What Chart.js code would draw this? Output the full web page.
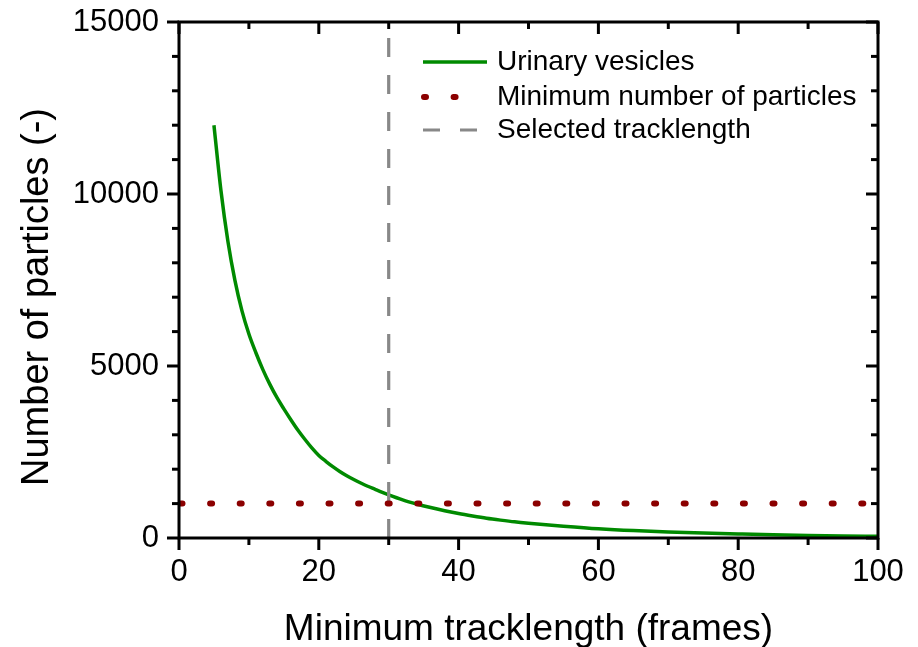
<!DOCTYPE html>
<html>
<head>
<meta charset="utf-8">
<script src="https://cdn.jsdelivr.net/npm/chart.js@4/dist/chart.umd.min.js"></script>
<style>
html,body{margin:0;padding:0;background:#fff;}
#wrap{width:918px;height:647px;position:relative;}
</style>
</head>
<body>
<div id="wrap"><canvas id="c" width="918" height="647"></canvas></div>
<script>
// ---- data ----
const trackLength = [5,6,7,8,9,10,11,12,13,14,15,16,17,18,19,20,21,22,23,24,25,26,27,28,29,30,32,34,36,38,40,42,44,46,48,50,55,60,65,70,75,80,85,90,95,100];
const particles   = [12000,10100,8620,7490,6610,5930,5385,4895,4465,4085,3755,3440,3140,2870,2620,2400,2230,2075,1935,1810,1700,1600,1505,1420,1335,1255,1110,990,885,790,710,640,575,520,470,430,345,270,215,175,145,117,92,74,60,49];
const minCountX = [0,100];
const minCountY = [1000,1000];
const selectedX = [30,30];
const selectedY = [0,15000];
const xTicks = [0,20,40,60,80,100];
const yTicks = [0,5000,10000,15000];
const seriesNames = ['Urinary vesicles','Minimum number of particles','Selected tracklength'];
const xTitle = 'Minimum tracklength (frames)';
const yTitle = 'Number of particles (-)';

const FONT = "'Liberation Sans', Arial, sans-serif";
const GREEN = '#008a00', RED = '#8b0000', GRAY = '#888888';

const decor = {
  id: 'decor',
  afterDraw(chart) {
    const {ctx, chartArea: a, scales: {x, y}} = chart;
    ctx.save();
    ctx.strokeStyle = '#000';
    ctx.lineCap = 'butt';
    ctx.setLineDash([]);
    const seg = (x1, y1, x2, y2) => { ctx.beginPath(); ctx.moveTo(x1, y1); ctx.lineTo(x2, y2); ctx.stroke(); };
    ctx.lineWidth = 3;
    // ticks
    for (let v = 0; v <= 100; v += 10) {
      const px = x.getPixelForValue(v);
      const L = v % 20 === 0 ? 12 : 7;
      seg(px, a.bottom, px, a.bottom + L);
      seg(px, a.top, px, a.top + L);
    }
    for (let v = 0; v <= 15000; v += 1000) {
      const py = y.getPixelForValue(v);
      const L = v % 5000 === 0 ? 12 : 7;
      seg(a.left - L, py, a.left, py);
      seg(a.right - L, py, a.right, py);
    }
    // frame
    ctx.strokeRect(a.left, a.top, a.right - a.left, a.bottom - a.top);

    // axis titles
    ctx.fillStyle = '#000';
    ctx.font = '37px ' + FONT;
    ctx.textAlign = 'center';
    ctx.textBaseline = 'alphabetic';
    ctx.fillText(xTitle, (a.left + a.right) / 2, 640);
    ctx.save();
    ctx.font = '38px ' + FONT;
    ctx.translate(48, 297);
    ctx.rotate(-Math.PI / 2);
    ctx.fillText(yTitle, 0, 0);
    ctx.restore();

    // legend
    const lx1 = 423, lx2 = 487, tx = 497;
    const rows = [62, 97, 130];
    ctx.lineWidth = 3.5; ctx.strokeStyle = GREEN; ctx.setLineDash([]);
    seg(lx1, rows[0], lx2, rows[0]);
    ctx.lineWidth = 6; ctx.strokeStyle = RED; ctx.lineCap = 'round'; ctx.setLineDash([2, 27.6]);
    seg(lx1 + 1, rows[1], lx2 - 6, rows[1]);
    ctx.lineWidth = 3.2; ctx.strokeStyle = GRAY; ctx.lineCap = 'butt'; ctx.setLineDash([17, 20]);
    seg(lx1, rows[2], lx2 - 9, rows[2]);
    ctx.setLineDash([]);
    ctx.font = '28px ' + FONT;
    ctx.textAlign = 'left';
    ctx.textBaseline = 'middle';
    seriesNames.forEach((n, i) => ctx.fillText(n, tx, rows[i]));
    ctx.restore();
  }
};

new Chart(document.getElementById('c'), {
  type: 'line',
  data: {
    datasets: [
      { label: seriesNames[1], data: minCountX.map((v, i) => ({x: v, y: minCountY[i]})),
        borderColor: RED, borderWidth: 6, borderDash: [2, 27.6], borderDashOffset: -1.5, borderCapStyle: 'round',
        pointRadius: 0, fill: false, order: 0, clip: 8 },
      { label: seriesNames[2], data: selectedX.map((v, i) => ({x: v, y: selectedY[i]})),
        borderColor: GRAY, borderWidth: 3.2, borderDash: [19, 18], pointRadius: 0, fill: false, order: 1 },
      { label: seriesNames[0], data: trackLength.map((v, i) => ({x: v, y: particles[i]})),
        borderColor: GREEN, borderWidth: 3.5, pointRadius: 0, fill: false,
        cubicInterpolationMode: 'monotone', order: 2 }
    ]
  },
  options: {
    responsive: false,
    animation: false,
    devicePixelRatio: 1,
    layout: { padding: { top: 22, right: 40, left: 0, bottom: 0 } },
    plugins: { legend: { display: false }, tooltip: { enabled: false } },
    scales: {
      x: {
        type: 'linear', min: 0, max: 100,
        afterFit: s => { s.height = 109; s.paddingLeft = 0; s.paddingRight = 0; },
        afterBuildTicks: s => { s.ticks = xTicks.map(v => ({value: v})); },
        grid: { display: false, drawTicks: false },
        border: { display: false },
        ticks: { font: { family: FONT, size: 31 }, color: '#000', padding: 16, maxRotation: 0,
                 callback: v => String(v) }
      },
      y: {
        type: 'linear', min: 0, max: 15000,
        afterFit: s => { s.width = 179; s.paddingTop = 0; s.paddingBottom = 0; },
        afterBuildTicks: s => { s.ticks = yTicks.map(v => ({value: v})); },
        grid: { display: false, drawTicks: false },
        border: { display: false },
        ticks: { font: { family: FONT, size: 31 }, color: '#000', padding: 20,
                 callback: v => String(v) }
      }
    }
  },
  plugins: [decor]
});
</script>
</body>
</html>
